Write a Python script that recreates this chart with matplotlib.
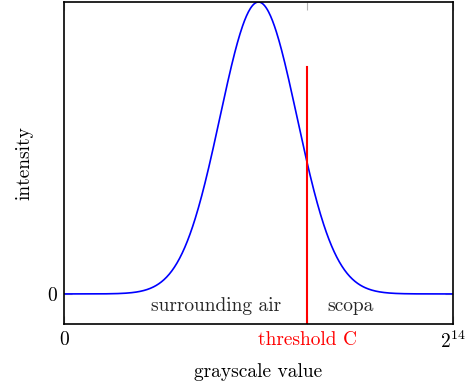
import numpy as np
import matplotlib
matplotlib.use("Agg")
import matplotlib.pyplot as plt

plt.rcParams["font.family"] = "serif"
plt.rcParams["font.serif"] = ["cmr10"]
plt.rcParams["mathtext.fontset"] = "cm"
plt.rcParams["axes.formatter.use_mathtext"] = True

# ==== data ====
x_max = 2 ** 14
peak_center = 8192
peak_sigma = 1620
threshold = 10240
threshold_height = 0.777
xtick_vals = [0, threshold, x_max]
xtick_labels = ["0", "threshold C", r"$2^{14}$"]
region_labels = ["surrounding air", "scopa"]
region_x = [6400, 12050]

xs = np.linspace(0, x_max, 600)
ys = np.exp(-(xs - peak_center) ** 2 / (2 * peak_sigma ** 2))

fig = plt.figure(figsize=(4.73, 3.87), dpi=100)
ax = fig.add_axes([0.1353, 0.1628, 0.8224, 0.832])

ax.plot(xs, ys, color="blue", lw=1.2)
ax.plot([threshold, threshold], [-0.2, threshold_height], color="red", lw=1.5)

ax.set_xlim(0, x_max)
ax.set_ylim(-0.103, 1.0)

fs = 14
ax.set_xticks(xtick_vals)
ax.set_xticklabels(xtick_labels, fontsize=fs)
ax.get_xticklabels()[1].set_color("red")
ax.set_yticks([0])
ax.set_yticklabels(["0"], fontsize=fs)
ax.tick_params(direction="in", length=6, color="0.7", top=True, right=True, pad=5)

for lbl, xv in zip(region_labels, region_x):
    ax.text(xv, -0.04, lbl, ha="center", va="center", fontsize=fs, color="0.15")

ax.set_xlabel("grayscale value", fontsize=fs, labelpad=8)
ax.set_ylabel("intensity", fontsize=fs, labelpad=10)
for sp in ax.spines.values():
    sp.set_linewidth(1.2)

fig.savefig("out.png", dpi=100)
